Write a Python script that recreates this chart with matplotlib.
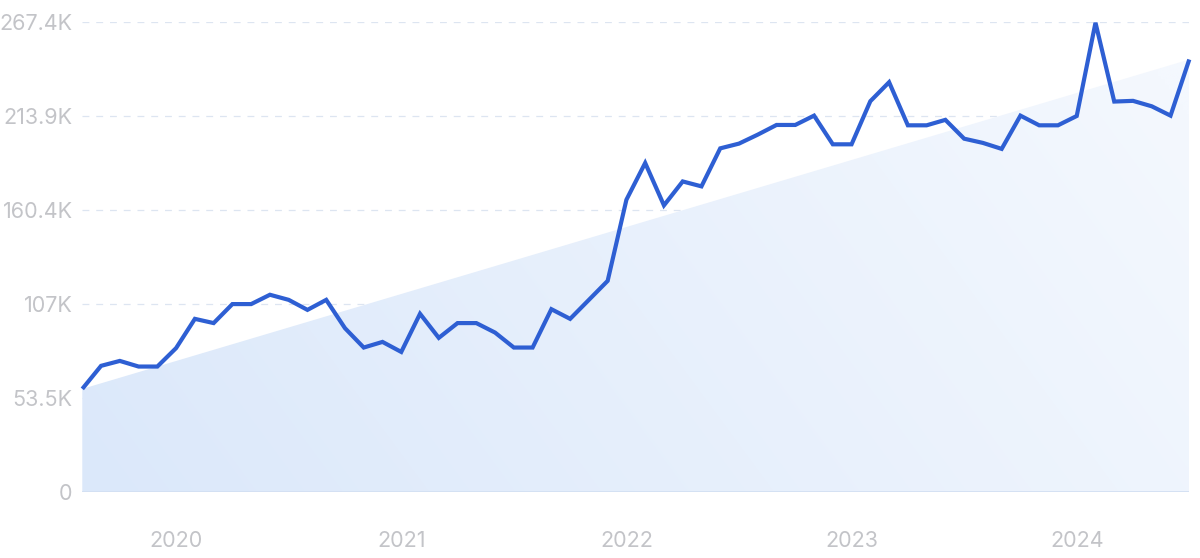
import matplotlib
matplotlib.use("Agg")
import matplotlib.pyplot as plt
import numpy as np
from matplotlib.colors import to_rgb

# ---- data (values in thousands) ----
months = [f"{y}-{m:02d}" for y in range(2019, 2025) for m in range(1, 13)][7:67]  # 2019-08 .. 2024-07
values = [58.6, 71.7, 74.5, 71.3, 71.3, 81.8, 98.4, 96.0, 106.8, 106.8,
          112.1, 109.2, 103.5, 109.2, 93.1, 82.1, 85.3, 79.6, 101.3, 87.6,
          96.0, 96.0, 90.6, 82.1, 82.1, 103.9, 98.4, 109.2, 120.0, 166.1,
          187.0, 162.9, 176.5, 173.7, 195.3, 198.0, 203.1, 208.6, 208.6, 213.9,
          197.6, 197.6, 222.1, 232.9, 208.4, 208.4, 211.5, 200.8, 198.4, 195.0,
          213.9, 208.4, 208.4, 213.7, 266.7, 221.9, 222.3, 219.2, 213.9, 245.8]
year_labels = ["2020", "2021", "2022", "2023", "2024"]
year_months = ["2020-01", "2021-01", "2022-01", "2023-01", "2024-01"]
ytick_values = [0, 53.48, 106.96, 160.44, 213.92, 267.4]
ytick_labels = ["0", "53.5K", "107K", "160.4K", "213.9K", "267.4K"]

x = np.arange(len(values))
n = len(values)

fig = plt.figure(figsize=(12, 5.58), dpi=100)
ax = fig.add_axes([82.3 / 1200, 66 / 558, 1107 / 1200, (492 - 21.5) / 558])
ax.set_xlim(0, n - 1)
ax.set_ylim(0, 267.4)

# trend area with gradient
poly = ax.fill_between([0, n - 1], [values[0], values[-1]], 0, color="none", lw=0)
c0 = np.array(to_rgb("#dbe8fa"))
c1 = np.array(to_rgb("#f4f8fe"))
gx, gy = np.meshgrid(np.linspace(0, 1, 300), np.linspace(0, 1, 150))
t = np.clip(0.8 * gx + 0.25 * gy, 0, 1)
img = c0[None, None, :] * (1 - t[..., None]) + c1[None, None, :] * t[..., None]
im = ax.imshow(img, extent=[0, n - 1, 0, 267.4], origin="lower", aspect="auto",
               interpolation="bilinear", zorder=1)
im.set_clip_path(poly.get_paths()[0], transform=ax.transData)

# grid
for v in ytick_values[1:]:
    ax.axhline(v, color="#dde5f1", lw=0.9, ls=(0, (5.5, 5.5)), zorder=0.5)
ax.axhline(0, color="#d3e0f3", lw=1.3, zorder=2)

# line
ax.plot(x, values, color="#2e5fd3", lw=3.0, solid_joinstyle="miter",
        solid_capstyle="butt", zorder=3, clip_on=False)

for s in ax.spines.values():
    s.set_visible(False)

ax.set_yticks(ytick_values)
ax.set_yticklabels(ytick_labels)
ax.set_xticks([months.index(m) for m in year_months])
ax.set_xticklabels(year_labels)
ax.tick_params(axis="both", length=0, labelcolor="#c3c4c8", labelsize=15.5)
ax.tick_params(axis="y", pad=7)
ax.tick_params(axis="x", pad=28)
for lab in ax.get_xticklabels() + ax.get_yticklabels():
    lab.set_fontfamily(["Inter", "DejaVu Sans"])

fig.savefig("out.png", dpi=100, facecolor="white")
